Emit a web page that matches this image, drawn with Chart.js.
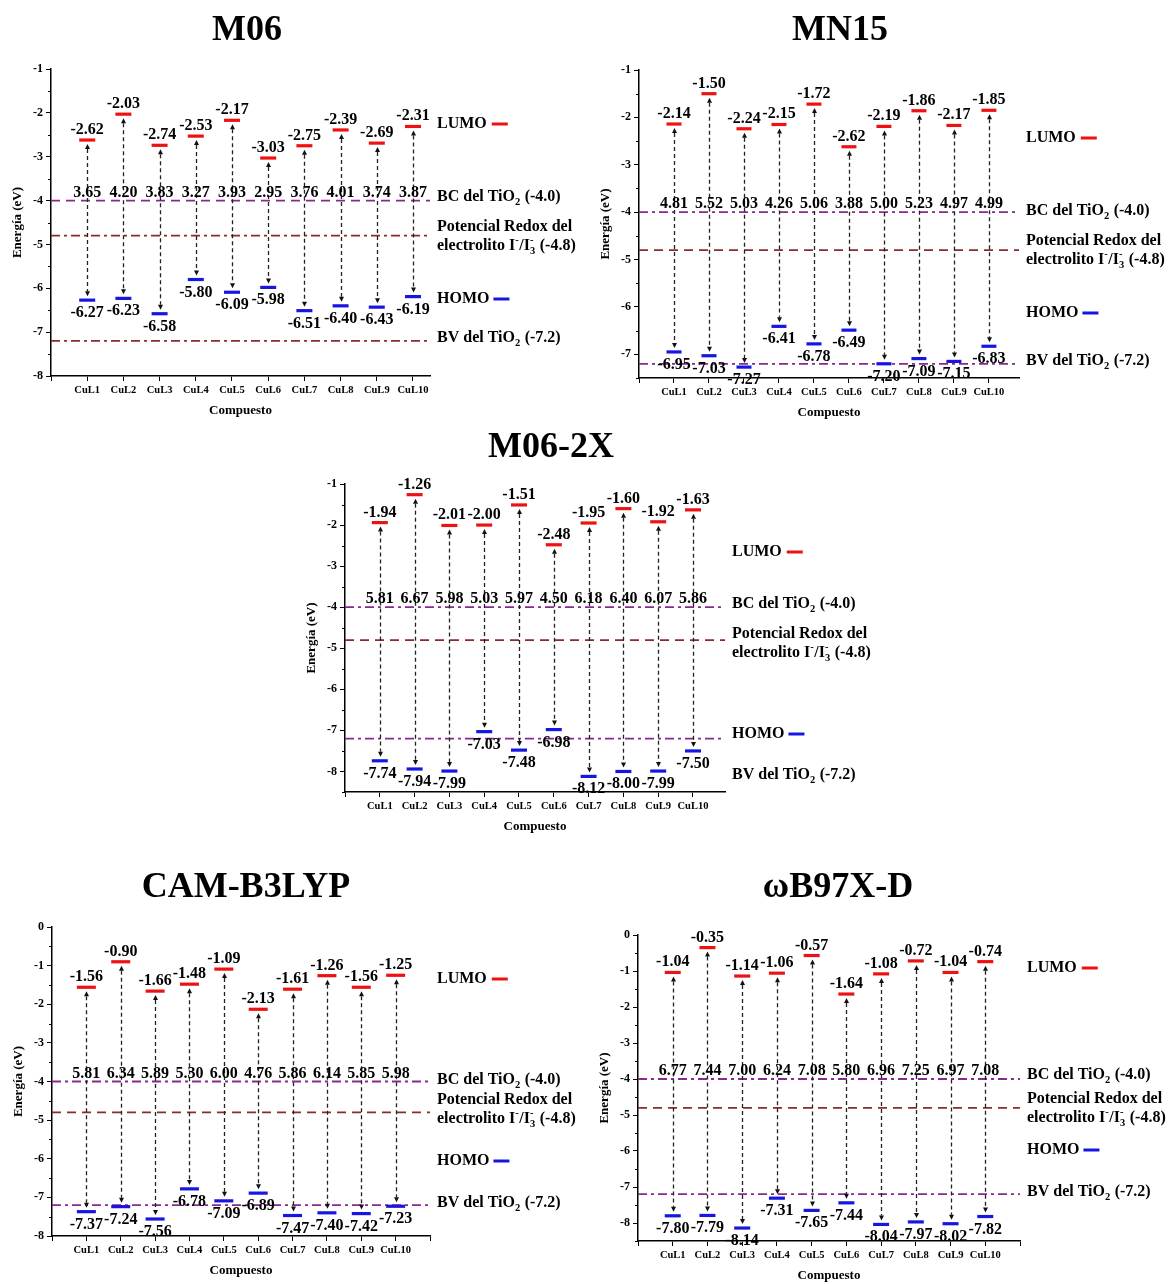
<!DOCTYPE html>
<html>
<head>
<meta charset="utf-8">
<script src="https://cdn.jsdelivr.net/npm/chart.js@4.4.1/dist/chart.umd.min.js"></script>
<style>
  body { margin: 0; background: #fff; width: 1168px; height: 1284px; position: relative; overflow: hidden; }
  .panel { position: absolute; }
  .title { position: absolute; width: 300px; text-align: center; font: bold 36px/36px 'Liberation Serif', serif; color: #000; }
</style>
</head>
<body>
<script>
const categories = ['CuL1', 'CuL2', 'CuL3', 'CuL4', 'CuL5', 'CuL6', 'CuL7', 'CuL8', 'CuL9', 'CuL10'];

// M06
const m06Lumo = [-2.62, -2.03, -2.74, -2.53, -2.17, -3.03, -2.75, -2.39, -2.69, -2.31];
const m06Homo = [-6.27, -6.23, -6.58, -5.80, -6.09, -5.98, -6.51, -6.40, -6.43, -6.19];
const m06Gap = ['3.65', '4.20', '3.83', '3.27', '3.93', '2.95', '3.76', '4.01', '3.74', '3.87'];

// MN15
const mn15Lumo = [-2.14, -1.50, -2.24, -2.15, -1.72, -2.62, -2.19, -1.86, -2.17, -1.85];
const mn15Homo = [-6.95, -7.03, -7.27, -6.41, -6.78, -6.49, -7.20, -7.09, -7.15, -6.83];
const mn15Gap = ['4.81', '5.52', '5.03', '4.26', '5.06', '3.88', '5.00', '5.23', '4.97', '4.99'];

// M06-2X
const m062xLumo = [-1.94, -1.26, -2.01, -2.00, -1.51, -2.48, -1.95, -1.60, -1.92, -1.63];
const m062xHomo = [-7.74, -7.94, -7.99, -7.03, -7.48, -6.98, -8.12, -8.00, -7.99, -7.50];
const m062xGap = ['5.81', '6.67', '5.98', '5.03', '5.97', '4.50', '6.18', '6.40', '6.07', '5.86'];

// CAM-B3LYP
const camLumo = [-1.56, -0.90, -1.66, -1.48, -1.09, -2.13, -1.61, -1.26, -1.56, -1.25];
const camHomo = [-7.37, -7.24, -7.56, -6.78, -7.09, -6.89, -7.47, -7.40, -7.42, -7.23];
const camGap = ['5.81', '6.34', '5.89', '5.30', '6.00', '4.76', '5.86', '6.14', '5.85', '5.98'];

// wB97X-D
const wbLumo = [-1.04, -0.35, -1.14, -1.06, -0.57, -1.64, -1.08, -0.72, -1.04, -0.74];
const wbHomo = [-7.80, -7.79, -8.14, -7.31, -7.65, -7.44, -8.04, -7.97, -8.02, -7.82];
const wbGap = ['6.77', '7.44', '7.00', '6.24', '7.08', '5.80', '6.96', '7.25', '6.97', '7.08'];

// niveles de referencia
const bcLevel = -4.0;
const redoxLevel = -4.8;
const bvLevel = -7.2;

const SERIF = "'Liberation Serif', 'Times New Roman', serif";
const RED = '#ee1111';
const BLUE = '#1616e0';
const PURPLE = '#862a8e';
const BROWN = '#8b2b2b';
const DASH = [9, 6];
const DASHDOT = [9, 4, 3, 4];
const YW = 40, XH = 40;

Chart.defaults.font.family = SERIF;

const panels = [
  { name: 'M06', lumo: m06Lumo, homo: m06Homo, gap: m06Gap, titleAt: [247, 28],
    box: [0, 40, 584, 390], area: [51, 69, 430, 376], yMin: -8, yMax: -1, xMax: 10.47, bar: 8,
    styles: { bc: [DASH, PURPLE], redox: [DASHDOT, BROWN], bv: [DASHDOT, BROWN] },
    legend: { lumo: 124, bc: 197, redox: [227, 246], homo: 299, bv: 338 } },
  { name: 'MN15', lumo: mn15Lumo, homo: mn15Homo, gap: mn15Gap, titleAt: [840, 28],
    box: [584, 40, 584, 390], area: [639, 70, 1019, 378], yMin: -7.5, yMax: -1, xMax: 10.86, bar: 7.5,
    styles: { bc: [DASHDOT, PURPLE], redox: [DASH, BROWN], bv: [DASHDOT, PURPLE] },
    legend: { lumo: 138, bc: 211, redox: [241, 260], homo: 313, bv: 361 } },
  { name: 'M06-2X', lumo: m062xLumo, homo: m062xHomo, gap: m062xGap, titleAt: [551, 445],
    box: [292, 455, 584, 390], area: [345, 484, 725, 792], yMin: -8.5, yMax: -1, xMax: 10.92, bar: 8,
    styles: { bc: [DASHDOT, PURPLE], redox: [DASH, BROWN], bv: [DASHDOT, PURPLE] },
    legend: { lumo: 552, bc: 604, redox: [634, 653], homo: 734, bv: 775 } },
  { name: 'CAM-B3LYP', lumo: camLumo, homo: camHomo, gap: camGap, titleAt: [246, 885],
    box: [0, 900, 584, 384], area: [52, 927, 430, 1236], yMin: -8, yMax: 0, xMax: 11, bar: 9.5,
    styles: { bc: [DASHDOT, PURPLE], redox: [DASH, BROWN], bv: [DASHDOT, PURPLE] },
    legend: { lumo: 979, bc: 1080, redox: [1100, 1119], homo: 1161, bv: 1203 } },
  { name: 'ωB97X-D', lumo: wbLumo, homo: wbHomo, gap: wbGap, titleAt: [838, 885],
    box: [584, 900, 584, 384], area: [638, 935, 1020, 1241], yMin: -8.5, yMax: 0, xMax: 11, bar: 8,
    styles: { bc: [DASHDOT, PURPLE], redox: [DASH, BROWN], bv: [DASHDOT, PURPLE] },
    legend: { lumo: 968, bc: 1075, redox: [1099, 1118], homo: 1150, bv: 1192 } }
];

function hline(ctx, x1, x2, y, dash, color) {
  ctx.save();
  ctx.setLineDash(dash);
  ctx.strokeStyle = color;
  ctx.lineWidth = 1.8;
  ctx.beginPath();
  ctx.moveTo(x1, y);
  ctx.lineTo(x2, y);
  ctx.stroke();
  ctx.restore();
}

// texto con sub/superindices: parts = [texto | {sub, sup}]
function richText(ctx, parts, x, y) {
  const big = 'bold 16px ' + SERIF, small = 'bold 10.5px ' + SERIF;
  ctx.textBaseline = 'middle';
  ctx.textAlign = 'left';
  parts.forEach(p => {
    if (typeof p === 'string') {
      ctx.font = big;
      ctx.fillText(p, x, y);
      x += ctx.measureText(p).width;
    } else {
      ctx.font = small;
      let w = 0;
      if (p.sub) { ctx.fillText(p.sub, x, y + 5); w = ctx.measureText(p.sub).width; }
      if (p.sup) { ctx.fillText(p.sup, x, y - 6); w = Math.max(w, ctx.measureText(p.sup).width); }
      x += w + 0.5;
    }
  });
  return x;
}

const levelsPlugin = {
  id: 'levels',
  beforeDatasetsDraw(chart, args, opts) {
    const p = opts.panel;
    const { ctx, chartArea: a, scales: { x, y } } = chart;
    hline(ctx, a.left, a.right, y.getPixelForValue(bcLevel), ...p.styles.bc);
    hline(ctx, a.left, a.right, y.getPixelForValue(redoxLevel), ...p.styles.redox);
    hline(ctx, a.left, a.right, y.getPixelForValue(bvLevel), ...p.styles.bv);

    // flechas LUMO <-> HOMO
    ctx.save();
    ctx.strokeStyle = '#222';
    ctx.fillStyle = '#111';
    ctx.lineWidth = 1.3;
    p.lumo.forEach((v, i) => {
      const px = Math.round(x.getPixelForValue(i + 1)) + 0.5;
      const yT = y.getPixelForValue(v) + 4;
      const yB = y.getPixelForValue(p.homo[i]) - 4;
      ctx.setLineDash([4, 3]);
      ctx.beginPath();
      ctx.moveTo(px, yT + 5);
      ctx.lineTo(px, yB - 5);
      ctx.stroke();
      ctx.setLineDash([]);
      ctx.beginPath();
      ctx.moveTo(px, yT); ctx.lineTo(px - 2.5, yT + 5); ctx.lineTo(px + 2.5, yT + 5);
      ctx.closePath(); ctx.fill();
      ctx.beginPath();
      ctx.moveTo(px, yB); ctx.lineTo(px - 2.5, yB - 5); ctx.lineTo(px + 2.5, yB - 5);
      ctx.closePath(); ctx.fill();
    });

    // ticks menores del eje y
    ctx.strokeStyle = '#000';
    ctx.lineWidth = 1;
    for (let v = Math.ceil(p.yMin * 2) / 2; v <= p.yMax; v += 0.5) {
      if (Number.isInteger(v)) continue;
      const py = Math.round(y.getPixelForValue(v)) + 0.5;
      ctx.beginPath();
      ctx.moveTo(a.left - 3, py);
      ctx.lineTo(a.left, py);
      ctx.stroke();
    }
    ctx.restore();
  },
  afterDatasetsDraw(chart, args, opts) {
    const p = opts.panel;
    const { ctx, chartArea: a, scales: { x, y } } = chart;
    ctx.save();
    ctx.fillStyle = '#000';
    ctx.font = 'bold 16px ' + SERIF;
    ctx.textAlign = 'center';
    ctx.textBaseline = 'alphabetic';
    const yGap = y.getPixelForValue(bcLevel) - 4;
    p.lumo.forEach((v, i) => {
      const px = x.getPixelForValue(i + 1);
      ctx.fillText(v.toFixed(2), px, y.getPixelForValue(v) - 6);
      ctx.fillText(p.homo[i].toFixed(2), px, y.getPixelForValue(p.homo[i]) + 17);
      ctx.fillText(p.gap[i], px, yGap);
    });

    // leyenda a la derecha
    const off = p.box[1];
    const lx = a.right + 7;
    const L = p.legend;
    let end = richText(ctx, ['LUMO'], lx, L.lumo - off);
    ctx.fillStyle = RED; ctx.fillRect(end + 5, L.lumo - off - 1.5, 16, 3);
    ctx.fillStyle = '#000';
    end = richText(ctx, ['HOMO'], lx, L.homo - off);
    ctx.fillStyle = BLUE; ctx.fillRect(end + 4, L.homo - off - 1.5, 16, 3);
    ctx.fillStyle = '#000';
    richText(ctx, ['BC del TiO', { sub: '2' }, ' (-4.0)'], lx, L.bc - off);
    richText(ctx, ['Potencial Redox del'], lx, L.redox[0] - off);
    richText(ctx, ['electrolito I', { sup: '-' }, '/I', { sub: '3', sup: '-' }, ' (-4.8)'], lx, L.redox[1] - off);
    richText(ctx, ['BV del TiO', { sub: '2' }, ' (-7.2)'], lx, L.bv - off);

    // titulos de ejes
    ctx.font = 'bold 13px ' + SERIF;
    ctx.textAlign = 'center';
    ctx.textBaseline = 'middle';
    ctx.fillText('Compuesto', (a.left + a.right) / 2, a.bottom + 35);
    ctx.translate(a.left - 33, (a.top + a.bottom) / 2);
    ctx.rotate(-Math.PI / 2);
    ctx.fillText('Energía (eV)', 0, 0);
    ctx.restore();
  }
};

function makeChart(p) {
  const [cl, ct, cw, ch] = p.box;
  const [al, at, ar, ab] = p.area;
  const wrap = document.createElement('div');
  wrap.className = 'panel';
  wrap.style.cssText = `left:${cl}px;top:${ct}px;width:${cw}px;height:${ch}px`;
  const canvas = document.createElement('canvas');
  canvas.width = cw;
  canvas.height = ch;
  wrap.appendChild(canvas);
  document.body.appendChild(wrap);

  const title = document.createElement('div');
  title.className = 'title';
  title.textContent = p.name;
  title.style.left = (p.titleAt[0] - 150) + 'px';
  title.style.top = (p.titleAt[1] - 18) + 'px';
  document.body.appendChild(title);

  const tickFont = { family: SERIF, weight: 'bold' };
  new Chart(canvas, {
    type: 'scatter',
    data: {
      datasets: [
        { label: 'LUMO', data: p.lumo.map((v, i) => ({ x: i + 1, y: v })),
          pointStyle: 'line', pointRadius: p.bar, pointBorderWidth: 3.2,
          pointBorderColor: RED, borderColor: RED, backgroundColor: RED },
        { label: 'HOMO', data: p.homo.map((v, i) => ({ x: i + 1, y: v })),
          pointStyle: 'line', pointRadius: p.bar, pointBorderWidth: 3.2,
          pointBorderColor: BLUE, borderColor: BLUE, backgroundColor: BLUE }
      ]
    },
    options: {
      responsive: false,
      animation: false,
      events: [],
      layout: { padding: { left: al - cl - YW, top: at - ct, right: cl + cw - ar, bottom: ct + ch - ab - XH } },
      plugins: { legend: { display: false }, tooltip: { enabled: false }, levels: { panel: p } },
      scales: {
        x: {
          type: 'linear', min: 0, max: p.xMax,
          afterFit: s => { s.height = XH; },
          border: { color: '#000', width: 1.5 },
          grid: { drawOnChartArea: false, color: '#000', tickLength: 5, lineWidth: 1 },
          ticks: { stepSize: 1, includeBounds: false, autoSkip: false, maxRotation: 0, padding: 3,
                   color: '#000', font: { ...tickFont, size: 10.5 },
                   callback: v => categories[v - 1] || '' }
        },
        y: {
          min: p.yMin, max: p.yMax,
          afterFit: s => { s.width = YW; },
          border: { color: '#000', width: 1.5 },
          grid: { drawOnChartArea: false, color: '#000', tickLength: 5, lineWidth: 1 },
          ticks: { stepSize: 1, includeBounds: false, padding: 3, color: '#000', font: { ...tickFont, size: 12 },
                   callback: v => Number.isInteger(v) ? String(v) : '' }
        }
      }
    },
    plugins: [levelsPlugin]
  });
}

panels.forEach(makeChart);
</script>
</body>
</html>
